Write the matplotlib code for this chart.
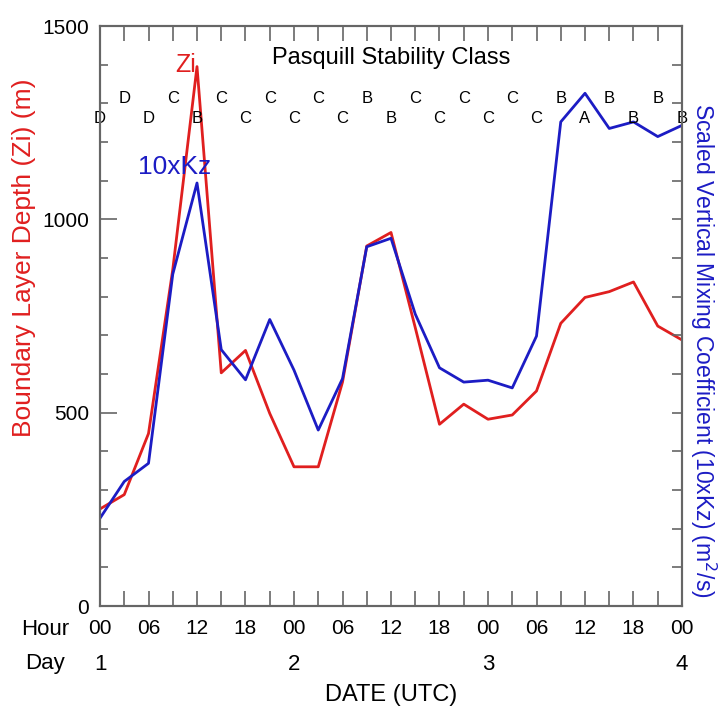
import matplotlib
matplotlib.use("Agg")
import matplotlib.pyplot as plt
from matplotlib.ticker import MultipleLocator

plt.rcParams["font.family"] = ["Liberation Sans", "DejaVu Sans"]

# hours since day 1 00 UTC, every 3 h
hours = list(range(0, 73, 3))

zi = [251, 288, 446, 870, 1395, 603, 661, 498, 360, 360, 579, 931, 966,
      720, 470, 522, 483, 494, 556, 731, 798, 813, 838, 724, 688]
kz10 = [227, 322, 369, 858, 1094, 663, 585, 741, 610, 455, 588, 929, 951,
        755, 616, 579, 584, 564, 698, 1252, 1326, 1235, 1252, 1214, 1243]

# Pasquill stability class, two staggered rows
class_hours_low = list(range(0, 73, 6))
class_low = ["D", "D", "B", "C", "C", "C", "B", "C", "C", "C", "A", "B", "B"]
class_hours_high = list(range(3, 73, 6))
class_high = ["D", "C", "C", "C", "C", "B", "C", "C", "C", "B", "B", "B"]

hour_ticks = list(range(0, 73, 6))
hour_labels = ["00", "06", "12", "18"] * 3 + ["00"]
day_hours = [0, 24, 48, 72]
day_labels = ["1", "2", "3", "4"]

RED = "#e01f1f"
BLUE = "#1c1cc4"
FRAME = "#666666"


def main():
    fig = plt.figure(figsize=(7.2, 7.07), dpi=100)
    ax = fig.add_axes([100 / 720, 1 - 606 / 707, 582 / 720, 580 / 707])

    ax.plot(hours, zi, color=RED, lw=2.0)
    ax.plot(hours, kz10, color=BLUE, lw=2.0)

    ax.set_xlim(0, 72)
    ax.set_ylim(0, 1500)

    for h, c in zip(class_hours_low, class_low):
        ax.text(h, 1260, c, ha="center", va="center", fontsize=12)
    for h, c in zip(class_hours_high, class_high):
        ax.text(h, 1312, c, ha="center", va="center", fontsize=12)
    ax.text(36, 1418, "Pasquill Stability Class", ha="center", va="center",
            fontsize=17)
    ax.text(10.6, 1400, "Zi", color=RED, ha="center", va="center", fontsize=18)
    ax.text(9.2, 1135, "10xKz", color=BLUE, ha="center", va="center",
            fontsize=19)

    for side in ax.spines.values():
        side.set_color(FRAME)
        side.set_linewidth(1.5)

    ax.yaxis.set_major_locator(MultipleLocator(500))
    ax.yaxis.set_minor_locator(MultipleLocator(100))
    ax.set_xticks(hour_ticks)
    ax.set_xticklabels(hour_labels)
    ax.xaxis.set_minor_locator(MultipleLocator(3))
    ax.tick_params(axis="x", which="both", direction="in", top=True,
                   length=11, width=1.2, color=FRAME, labelsize=15, pad=9)
    ax.tick_params(axis="y", which="major", direction="in", length=12,
                   width=1.2, color=FRAME, labelsize=15, pad=8)
    ax.tick_params(axis="y", which="minor", direction="in", length=6,
                   width=1.2, color=FRAME)

    ax2 = ax.twinx()
    ax2.set_ylim(0, 1500)
    ax2.yaxis.set_major_locator(MultipleLocator(100))
    ax2.tick_params(axis="y", direction="in", length=7, width=1.2,
                    color=FRAME, labelright=False)
    for side in ax2.spines.values():
        side.set_color(FRAME)
        side.set_linewidth(1.5)

    # bottom rows: Hour / Day
    ax.text(-0.095, -0.041, "Hour", transform=ax.transAxes, ha="center",
            va="center", fontsize=16)
    ax.text(-0.095, -0.100, "Day", transform=ax.transAxes, ha="center",
            va="center", fontsize=16)
    for h, d in zip(day_hours, day_labels):
        ax.text(h, -0.100, d, transform=ax.get_xaxis_transform(),
                ha="center", va="center", fontsize=16)
    ax.text(0.5, -0.153, "DATE (UTC)", transform=ax.transAxes, ha="center",
            va="center", fontsize=17)

    fig.text(24 / 720, 1 - 258 / 707, "Boundary Layer Depth (Zi) (m)",
             color=RED, rotation=90, ha="center", va="center", fontsize=19)
    fig.text(703 / 720, 1 - 350 / 707,
             "Scaled Vertical Mixing Coefficient (10xKz) (m$^2$/s)",
             color=BLUE, rotation=270, ha="center", va="center", fontsize=16.5)

    fig.savefig("out.png", dpi=100)


if __name__ == "__main__":
    main()
